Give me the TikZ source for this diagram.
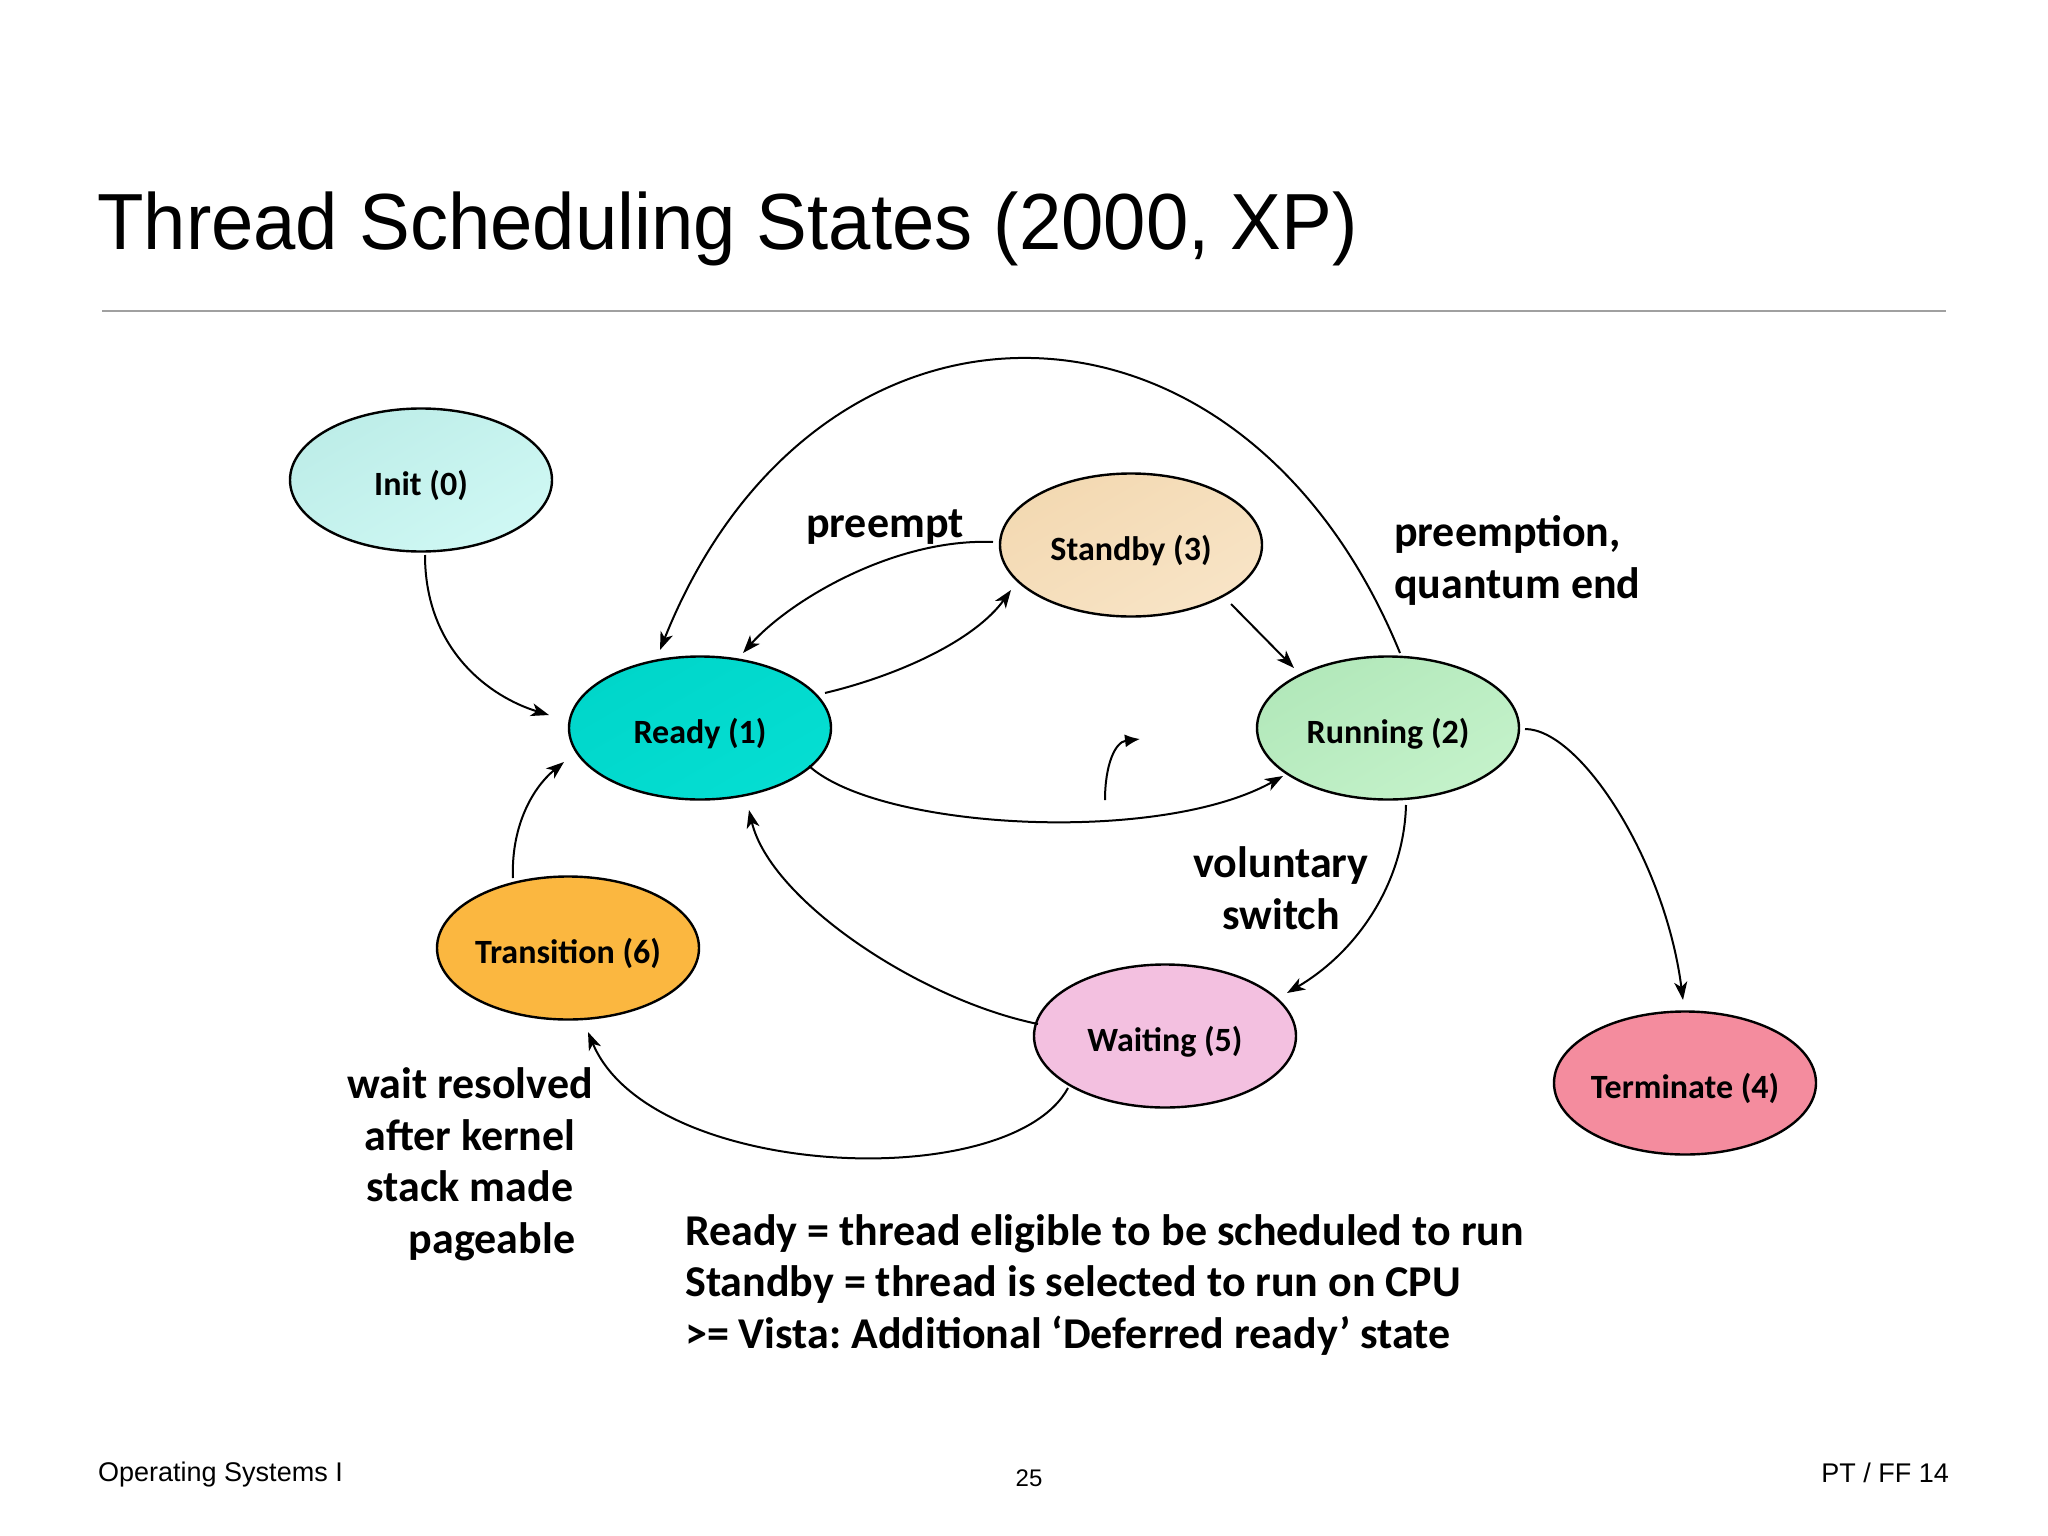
\documentclass[tikz,border=0pt]{standalone}
\usepackage{fontspec}
\setmainfont{Carlito}
\newfontfamily\helv{Liberation Sans}
\newfontfamily\titlefont[FakeStretch=0.956]{Liberation Sans}
\usetikzlibrary{shapes.geometric,arrows.meta,calc}
\definecolor{initA}{HTML}{BDEDE8}
\definecolor{initB}{HTML}{CFF8F4}
\definecolor{readyA}{HTML}{00D6CA}
\definecolor{readyB}{HTML}{05DED2}
\definecolor{standA}{HTML}{F3D9B2}
\definecolor{standB}{HTML}{F8E4C6}
\definecolor{runA}{HTML}{B2E8BA}
\definecolor{runB}{HTML}{C4F2CA}
\definecolor{transA}{HTML}{FBB740}
\definecolor{transB}{HTML}{FEDDA0}
\definecolor{waitA}{HTML}{F3C0E0}
\definecolor{waitB}{HTML}{FAE0F0}
\definecolor{termA}{HTML}{F48C9E}
\definecolor{termB}{HTML}{F8AAB8}
\definecolor{rulegrey}{HTML}{A0A0A0}
\newcommand\zb[1]{\raisebox{-15pt}[0pt][0pt]{\makebox[0pt]{#1}}}
\frenchspacing
\begin{document}
\begin{tikzpicture}[x=1pt,y=-1pt,
  state/.style={ellipse, draw=black, line width=2.4pt, minimum width=262pt,
    minimum height=143pt, inner sep=0pt, font=\fontsize{34}{40}\selectfont\bfseries},
  conn/.style={line width=2pt, -{Stealth[length=18pt,width=13pt,inset=5pt]}},
  lbl/.style={font=\fontsize{44}{51.5}\selectfont\bfseries, inner sep=0pt},
  foot/.style={inner sep=0pt, font=\helv\fontsize{27}{30}\selectfont},
]
\useasboundingbox (0,0) rectangle (2048,1536);
\fill[white] (0,0) rectangle (2048,1536);

% title and rule
\node[anchor=base west, inner sep=0pt, font=\titlefont\fontsize{79.6}{90}\selectfont] (title) at (97,249) {Thread Scheduling States (2000, XP)};
\draw[line width=2pt, rulegrey] (102,311) -- (1946,311);

% states
\node[state, left color=initA, right color=initB, shading angle=30] (init) at (421,480) {\zb{Init (0)}};
\node[state, left color=readyA, right color=readyB, shading angle=30] (ready) at (700,728) {\zb{Ready (1)}};
\node[state, left color=standA, right color=standB, shading angle=30] (standby) at (1131,545) {\zb{Standby (3)}};
\node[state, left color=runA, right color=runB, shading angle=30] (running) at (1388,728) {\zb{Running (2)}};
\node[state, left color=transA, middle color=transB, right color=transA, shading angle=45] (transition) at (568,948) {\zb{Transition (6)}};
\node[state, left color=waitA, middle color=waitB, right color=waitA, shading angle=45] (waiting) at (1165,1036) {\zb{Waiting (5)}};
\node[state, left color=termA, middle color=termB, right color=termA, shading angle=45] (terminate) at (1685,1083) {\zb{Terminate (4)}};

% connectors
\draw[conn] ($(init)+(4,75)$) .. controls (425,650) and (490,697) .. ($(ready)+(-151,-13)$);
\draw[conn] ($(ready)+(125,-35)$) .. controls (900,675) and (975,640) .. ($(standby)+(-120,45)$);
\draw[conn] ($(standby)+(-138,-3)$) .. controls (895,538) and (790,600) .. ($(ready)+(43,-75)$);
\draw[conn] ($(standby)+(100,59)$) -- ($(running)+(-94,-60)$);
\draw[conn] ($(running)+(12,-75)$) .. controls (1240,262) and (815,262) .. ($(ready)+(-40,-78)$);
\draw[conn] ($(ready)+(109,38)$) .. controls (880,830) and (1160,845) .. ($(running)+(-105,48)$);
\coordinate (sa) at (1105,800);
\coordinate (sb) at (1140,739);
\draw[line width=2pt, -{Latex[length=15pt,width=13pt]}] (sa) .. controls (1105,765) and (1115,742) .. (sb);
\draw[conn] ($(running)+(137,1)$) .. controls (1580,729) and (1665,860) .. ($(terminate)+(-2,-83)$);
\draw[conn] ($(running)+(18,77)$) .. controls (1404,880) and (1360,950) .. ($(waiting)+(122,-43)$);
\draw[conn] ($(waiting)+(-127,-12)$) .. controls (920,1000) and (770,900) .. ($(ready)+(49,82)$);
\draw[conn] ($(waiting)+(-97,52)$) .. controls (1010,1195) and (650,1180) .. ($(transition)+(20,84)$);
\draw[conn] ($(transition)+(-55,-70)$) .. controls (511,830) and (530,790) .. ($(ready)+(-136,34)$);

% labels (multi-line nodes: base anchor is the last line's baseline)
\node[lbl, anchor=base west] (lpreempt) at (806,537) {preempt};
\node[lbl, anchor=base west, align=left] (lquantum) at (1394,598) {preemption,\\quantum end};
\node[lbl, anchor=base, align=center] (lvoluntary) at (1281,929) {voluntary\\switch};
\node[lbl, anchor=base, align=center] (lwait) at (470,1253) {wait resolved\\after kernel\\stack made\\\hspace*{44pt}pageable};
\node[lbl, anchor=base west, align=left] (legend) at (685,1348) {Ready = thread eligible to be scheduled to run\\Standby = thread is selected to run on CPU\\>= Vista: Additional ‘Deferred ready’ state};

% footer
\node[foot, anchor=base west] (fleft) at (98,1481) {Operating Systems I};
\node[foot, anchor=base, font=\helv\fontsize{24}{28}\selectfont] (fpage) at (1029,1486) {25};
\node[foot, anchor=base east] (fright) at (1949,1482) {PT / FF 14};
\end{tikzpicture}
\end{document}
